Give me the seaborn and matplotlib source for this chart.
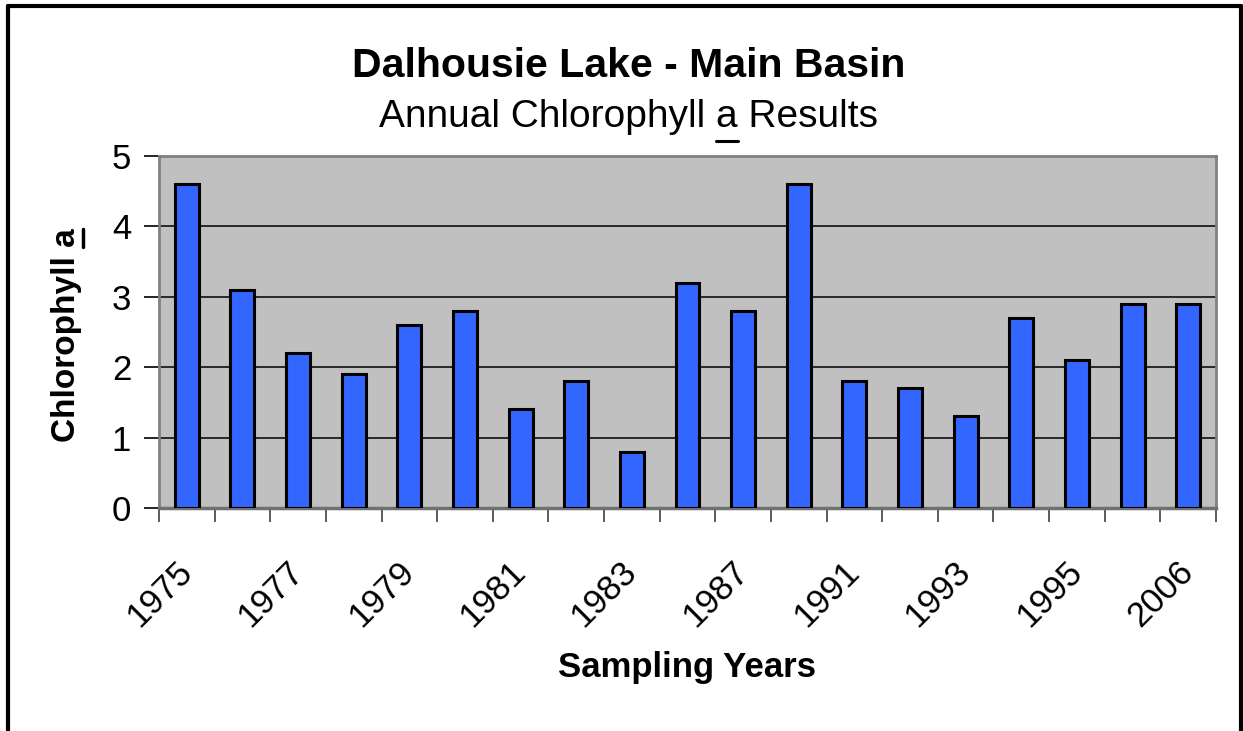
import matplotlib
matplotlib.use("Agg")
import matplotlib.pyplot as plt
from matplotlib.lines import Line2D
from matplotlib import font_manager
import seaborn as sns
import pandas as pd

# ---- data ----
years = ["1975", "1976", "1977", "1978", "1979", "1980", "1981", "1982", "1983",
         "1986", "1987", "1989", "1991", "1992", "1993", "1994", "1995", "2004", "2006"]
chlorophyll = [4.6, 3.1, 2.2, 1.9, 2.6, 2.8, 1.4, 1.8, 0.8,
               3.2, 2.8, 4.6, 1.8, 1.7, 1.3, 2.7, 2.1, 2.9, 2.9]
shown_labels = ["1975", "1977", "1979", "1981", "1983", "1987", "1991", "1993", "1995", "2006"]
y_ticks = [0, 1, 2, 3, 4, 5]

title = "Dalhousie Lake - Main Basin"
subtitle = "Annual Chlorophyll a Results"
ylabel = "Chlorophyll a"
xlabel = "Sampling Years"

df = pd.DataFrame({"year": years, "value": chlorophyll})

sns.set_style("white")
plt.rcParams["font.family"] = ["Liberation Sans", "DejaVu Sans"]
for k in ["text.color", "axes.labelcolor", "xtick.color", "ytick.color"]:
    plt.rcParams[k] = "black"

names = {f.name for f in font_manager.fontManager.ttflist}
if "Liberation Sans Narrow" in names:
    sub_family, sub_size = ["Liberation Sans Narrow", "DejaVu Sans"], 35
else:
    sub_family, sub_size = ["Liberation Sans", "DejaVu Sans"], 28

W, H, DPI = 1243, 731, 100
fig = plt.figure(figsize=(W / DPI, H / DPI), dpi=DPI)
ax = fig.add_axes([159 / W, 1 - 508 / H, (1216 - 159) / W, (508 - 156) / H])
ax.set_facecolor("#C0C0C0")

sns.barplot(data=df, x="year", y="value", order=years, color="#3366FF",
            saturation=1, width=0.43, edgecolor="black", linewidth=2.2, ax=ax,
            zorder=3)

ax.set_ylim(0, 5)
ax.set_xlim(-0.5, len(years) - 0.5)
ax.set_yticks(y_ticks)
ax.set_yticklabels([str(v) for v in y_ticks], fontsize=25)
ax.yaxis.grid(True, color="black", linewidth=1.1, zorder=1)
ax.set_axisbelow(True)

# x ticks: boundaries as major (marks), category centers as minor (labels)
ax.set_xticks([i - 0.5 for i in range(len(years) + 1)])
ax.set_xticklabels([])
centers = [i for i, y in enumerate(years) if y in shown_labels]
ax.set_xticks(centers, minor=True)
ax.set_xticklabels([years[i] for i in centers], minor=True, fontsize=25,
                   rotation=45, ha="right", va="center", rotation_mode="anchor")
ax.tick_params(axis="x", which="major", direction="out", length=10, width=1.2,
               color="#404040", bottom=True)
ax.tick_params(axis="x", which="minor", length=0, pad=42)
ax.tick_params(axis="y", direction="out", length=11, width=1.2, color="black",
               left=True, pad=9)

for s in ["top", "right", "left"]:
    ax.spines[s].set_color("#808080")
    ax.spines[s].set_linewidth(2)
ax.spines["bottom"].set_color("#707070")
ax.spines["bottom"].set_linewidth(2.5)

ax.set_xlabel(xlabel, fontsize=25, fontweight="bold")
ax.xaxis.label.set_verticalalignment("center")
ax.xaxis.set_label_coords(0.5, (508 - 668) / 352)
ax.set_ylabel(ylabel, fontsize=24, fontweight="bold")
ax.yaxis.label.set_verticalalignment("center")
ax.yaxis.set_label_coords((66 - 159) / 1057, 0.49)

cx = 0.5 + 7 / W
fig.text(cx, 1 - 77 / H, title, ha="center", va="baseline", fontsize=29.5,
         fontweight="bold")
sub_base = 1 - 127 / H
sub = fig.text(cx, sub_base, subtitle, ha="center", va="baseline",
               fontsize=sub_size, family=sub_family)

# outer frame
fr_kw = dict(color="black", linewidth=3, transform=fig.transFigure)
fig.add_artist(Line2D([7.5 / W, 7.5 / W], [0, 1 - 5.5 / H], **fr_kw))
fig.add_artist(Line2D([7.5 / W, 1240.5 / W], [1 - 5.5 / H, 1 - 5.5 / H], **fr_kw))
fig.add_artist(Line2D([1240.5 / W, 1240.5 / W], [0, 1 - 5.5 / H], **fr_kw))

# underline the "a"
fig.canvas.draw()
r = fig.canvas.get_renderer()


def text_w(s, **kw):
    t = fig.text(0, 0, s, **kw)
    w = t.get_window_extent(r).width
    t.remove()
    return w


bb = sub.get_window_extent(r)
w_pre = text_w("Annual Chlorophyll a", fontsize=sub_size, family=sub_family)
w_a = text_w("a", fontsize=sub_size, family=sub_family)
x0 = bb.x0 + w_pre - w_a
uy = sub_base * H - 14
fig.add_artist(Line2D([x0 / W, (x0 + w_a) / W], [uy / H] * 2,
                      color="black", linewidth=2.2, transform=fig.transFigure))

yl = ax.yaxis.label
bb2 = yl.get_window_extent(r)
w_a2 = text_w("a", fontsize=24, fontweight="bold")
ux = bb2.x1 + 2
fig.add_artist(Line2D([ux / W] * 2, [(bb2.y1 - w_a2) / H, bb2.y1 / H],
                      color="black", linewidth=2.5, transform=fig.transFigure))

fig.savefig("out.png", dpi=DPI)
